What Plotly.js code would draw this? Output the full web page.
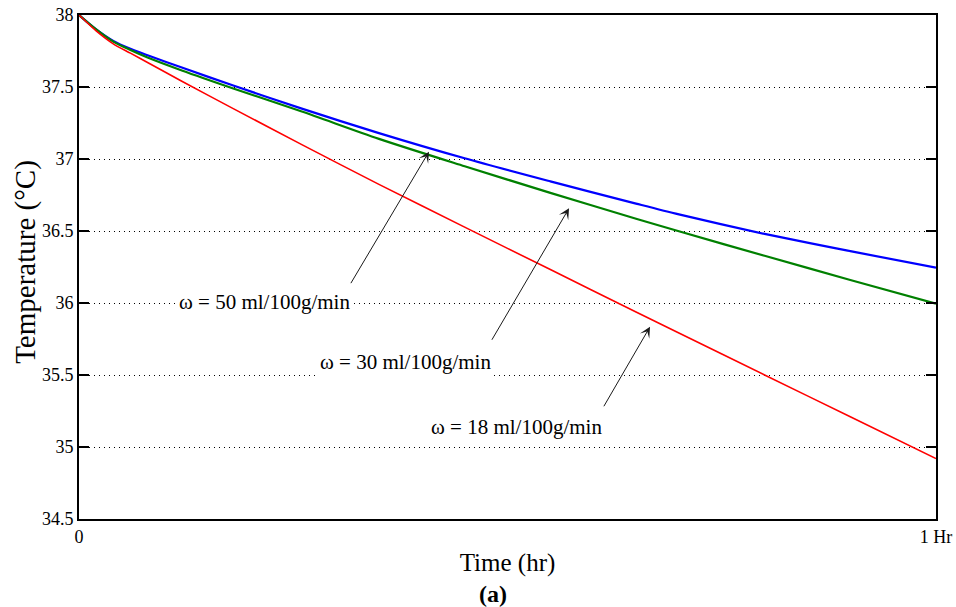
<!DOCTYPE html>
<html>
<head>
<meta charset="utf-8">
<script src="https://cdn.plot.ly/plotly-3.0.1.min.js"></script>
<style>html,body{margin:0;padding:0;background:#fff;}#chart{width:956px;height:607px;}</style>
</head>
<body>
<div id="chart"></div>
<script>
// Time in hours
var timeHr = [0, 0.02, 0.04, 0.06, 0.08, 0.12, 0.18, 0.26, 0.35, 0.45, 0.55, 0.65, 0.70, 0.80, 0.90, 1.0];
// Temperature (°C) for each perfusion rate
var temp50 = [38, 37.90, 37.82, 37.765, 37.72, 37.635, 37.51, 37.35, 37.18, 37.005, 36.845, 36.69, 36.615, 36.48, 36.36, 36.245];
var temp30 = [38, 37.90, 37.815, 37.757, 37.705, 37.615, 37.49, 37.33, 37.14, 36.95, 36.765, 36.585, 36.498, 36.328, 36.16, 35.995];
var temp18 = [38, 37.89, 37.80, 37.735, 37.67, 37.54, 37.35, 37.10, 36.824, 36.527, 36.232, 35.938, 35.792, 35.50, 35.21, 34.92];
var seriesNames = ['ω = 50 ml/100g/min', 'ω = 30 ml/100g/min', 'ω = 18 ml/100g/min'];
var seriesColors = ['#0000ff', '#008000', '#ff0000'];
var xTickVals = [0, 1];
var xTickText = ['0', '1 Hr'];
var yTickVals = [34.5, 35, 35.5, 36, 36.5, 37, 37.5, 38];
var yTickText = ['34.5', '35', '35.5', '36', '36.5', '37', '37.5', '38'];

var FONT = 'Liberation Serif, Times New Roman, Times, serif';

var traces = [
  {x: timeHr, y: temp50, name: seriesNames[0], mode: 'lines', line: {color: seriesColors[0], width: 2.2, shape: 'spline', smoothing: 0.8}},
  {x: timeHr, y: temp30, name: seriesNames[1], mode: 'lines', line: {color: seriesColors[1], width: 2.2, shape: 'spline', smoothing: 0.8}},
  {x: timeHr, y: temp18, name: seriesNames[2], mode: 'lines', line: {color: seriesColors[2], width: 1.6, shape: 'spline', smoothing: 0.8}}
];

function arrow(x, y, ax, ay) {
  return {x: x, y: y, xref: 'x', yref: 'y', text: '', showarrow: true, ax: ax, ay: ay,
    arrowhead: 3, arrowsize: 1.8, arrowwidth: 1, arrowcolor: '#1a1a1a', standoff: 0, startstandoff: 0};
}
function label(x, y, txt) {
  return {x: x, y: y, xref: 'x', yref: 'y', text: txt, showarrow: false, bgcolor: '#ffffff',
    borderpad: 2, font: {family: FONT, size: 21, color: '#000'}};
}

var layout = {
  width: 956, height: 607,
  margin: {l: 79, r: 20, t: 15, b: 88, pad: 0},
  paper_bgcolor: '#fff', plot_bgcolor: '#fff',
  showlegend: false,
  font: {family: FONT, color: '#000'},
  xaxis: {
    range: [0, 1], tickvals: xTickVals, ticktext: xTickText,
    ticks: '', showgrid: false, zeroline: false,
    showline: true, linecolor: '#000', linewidth: 2, mirror: true,
    tickfont: {family: FONT, size: 18, color: '#000'},
    title: {text: 'Time (hr)', font: {family: FONT, size: 25, color: '#000'}, standoff: 8}
  },
  yaxis: {
    range: [34.5, 38], tickvals: yTickVals, ticktext: yTickText,
    ticks: 'inside', ticklen: 10, tickwidth: 2, tickcolor: '#000',
    showgrid: true, gridcolor: '#000', gridwidth: 1, griddash: '1px,4px',
    zeroline: false, showline: true, linecolor: '#000', linewidth: 2, mirror: 'ticks',
    tickfont: {family: FONT, size: 18, color: '#000'}
  },
  annotations: [
    arrow(0.4084, 37.051, -79, 133),
    arrow(0.5718, 36.658, -78, 133),
    arrow(0.6663, 35.835, -47, 81),
    label(0.2159, 36.01, seriesNames[0]),
    label(0.3804, 35.593, seriesNames[1]),
    label(0.51, 35.141, seriesNames[2]),
    {x: -0.062, y: 0.51, xref: 'paper', yref: 'paper', xanchor: 'center', yanchor: 'middle',
      textangle: -90, text: 'Temperature (°C)', showarrow: false,
      font: {family: FONT, size: 29, color: '#000'}},
    {x: 0.483, y: -0.149, xref: 'paper', yref: 'paper', yanchor: 'middle', xanchor: 'center',
      text: '<b>(a)</b>', showarrow: false,
      font: {family: FONT, size: 24, color: '#000'}}
  ]
};

Plotly.newPlot('chart', traces, layout, {staticPlot: true, displayModeBar: false});
</script>
</body>
</html>
